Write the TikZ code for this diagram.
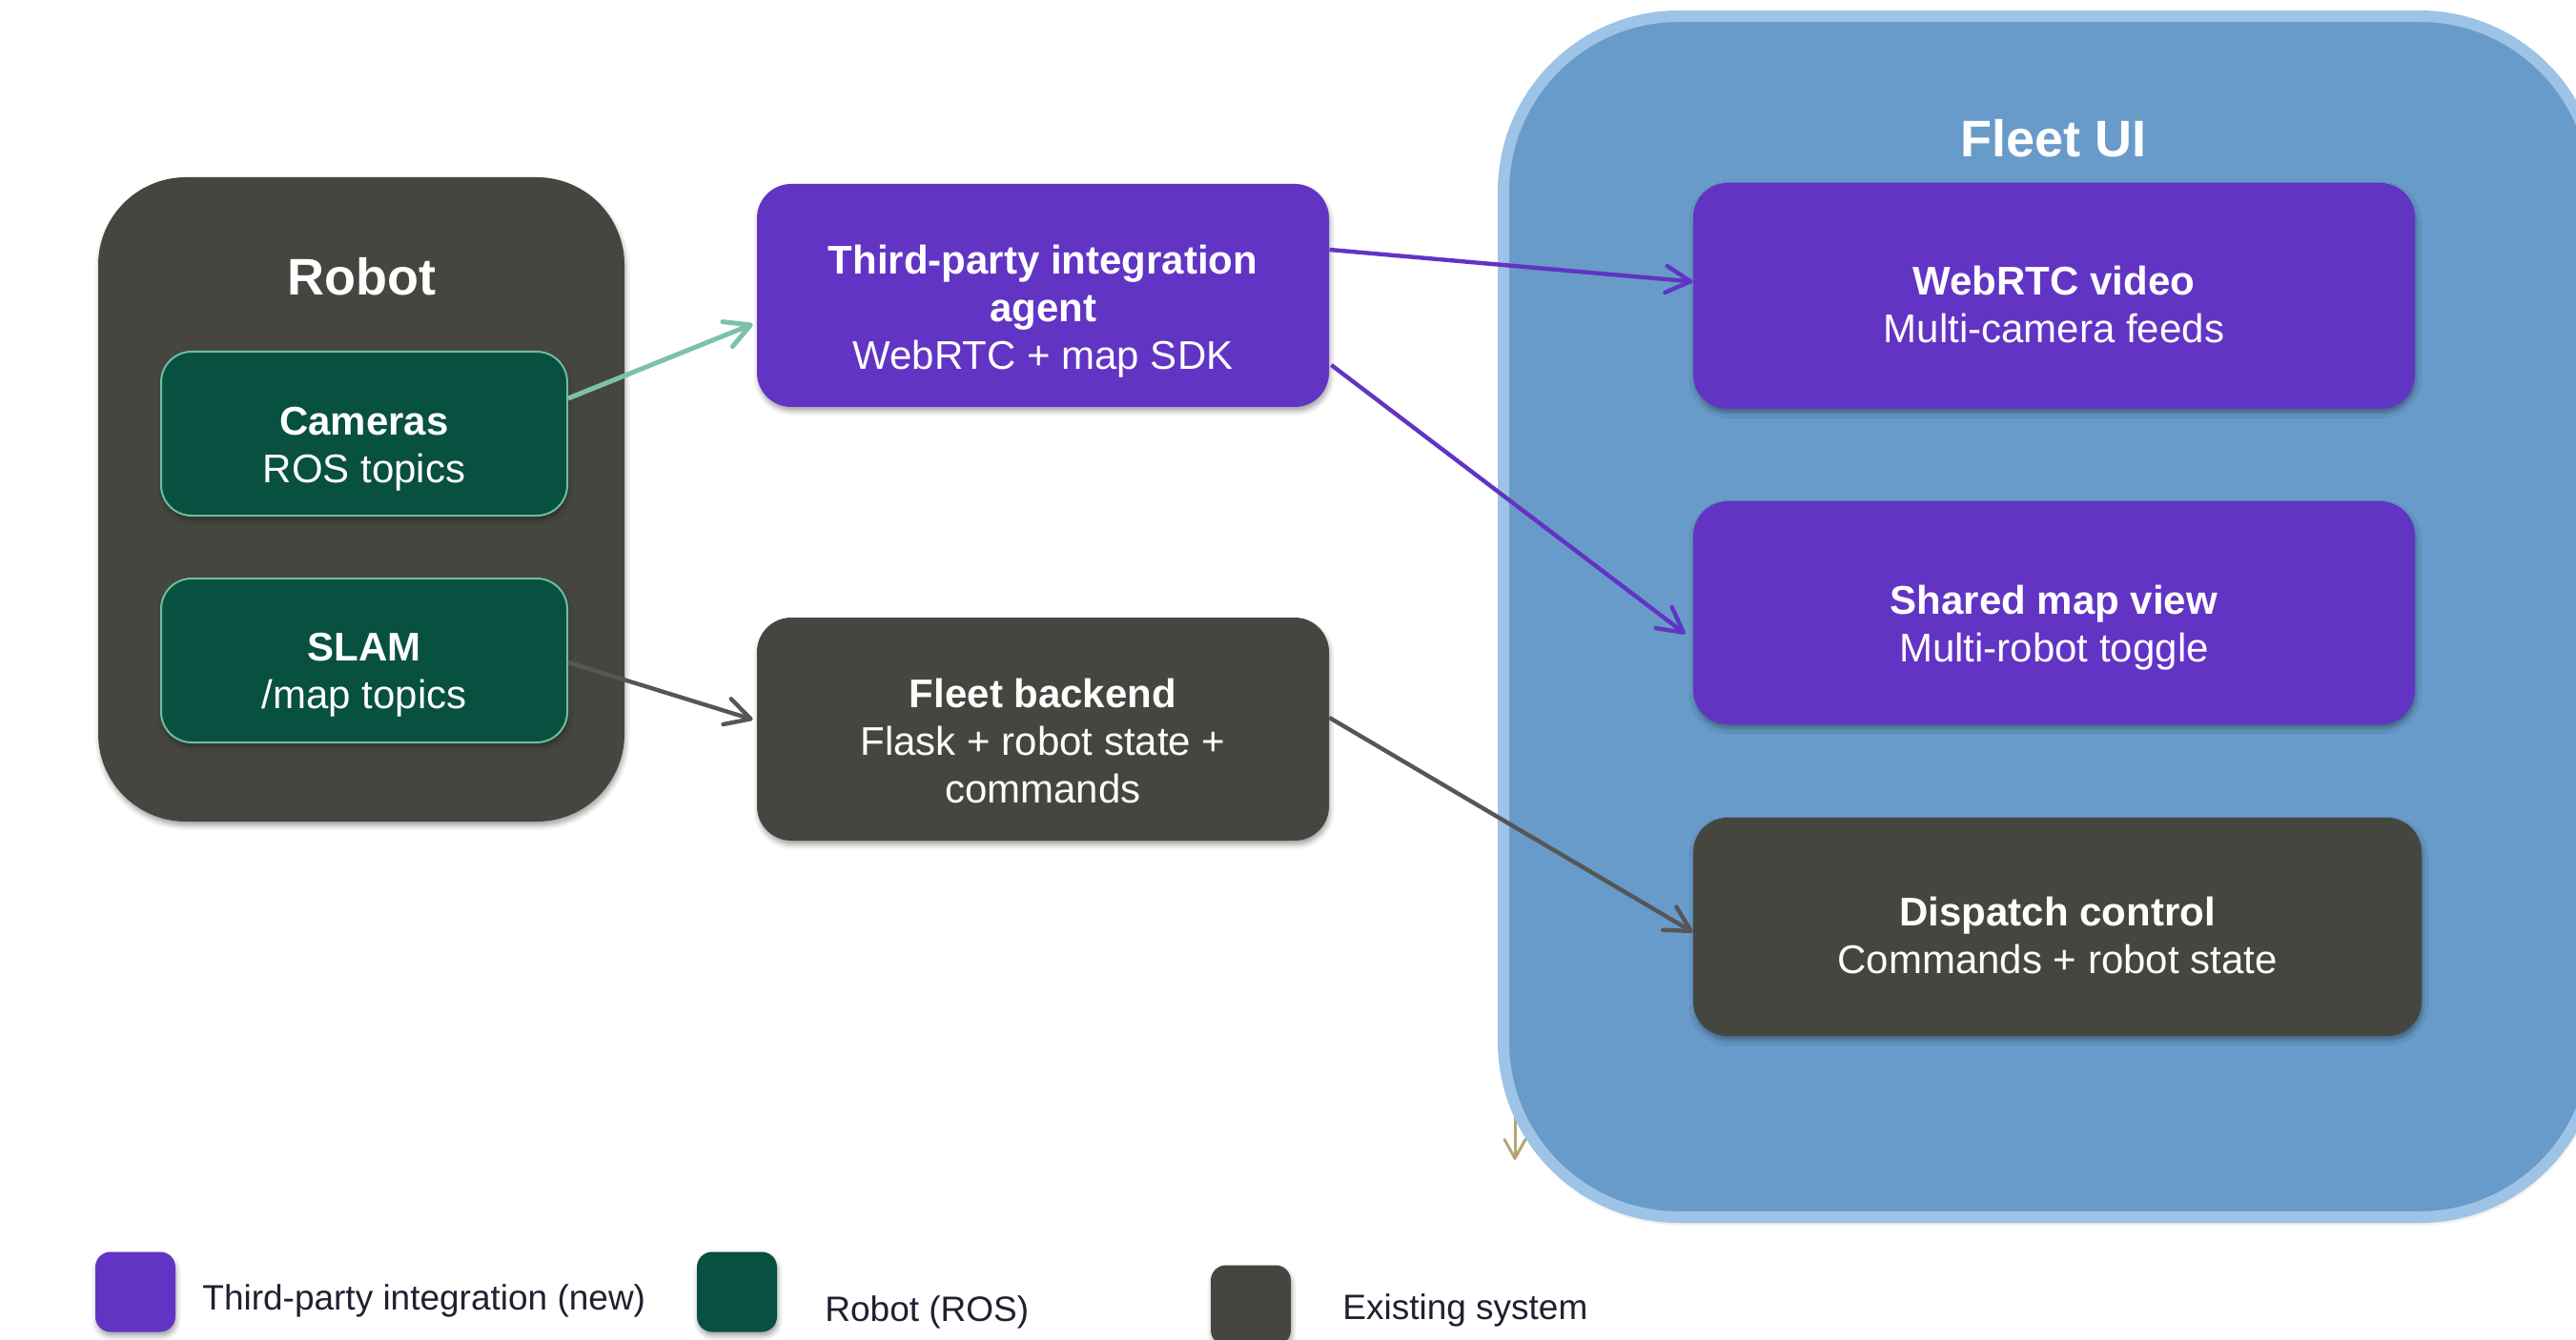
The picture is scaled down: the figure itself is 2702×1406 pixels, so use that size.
\documentclass[tikz,border=0pt]{standalone}
\usepackage{fontspec}
\setmainfont{Liberation Sans}
\usetikzlibrary{arrows.meta,shadows.blur}

\definecolor{newpurple}{HTML}{6234C4}
\definecolor{rosgreen}{HTML}{08503F}
\definecolor{rosedge}{HTML}{6DBE9F}
\definecolor{oldgray}{HTML}{464641}
\definecolor{uifill}{HTML}{689BC9}
\definecolor{uiedge}{HTML}{9DC3E6}
\definecolor{tealarrow}{HTML}{7DC2A8}
\definecolor{grayarrow}{HTML}{565656}
\definecolor{tanarrow}{HTML}{B5A572}
\definecolor{legendtext}{HTML}{202030}

\tikzset{
  softshadow/.style={blur shadow={shadow xshift=0.6pt, shadow yshift=-2.2pt,
      shadow blur radius=2.5pt, shadow opacity=35}},
  panel/.style={inner sep=0pt, softshadow},
  newbox/.style={panel, fill=newpurple, rounded corners=18pt},
  oldbox/.style={panel, fill=oldgray, rounded corners=18pt},
  rosbox/.style={panel, fill=rosgreen, draw=rosedge, line width=1pt,
      rounded corners=16pt, minimum width=213pt, minimum height=86pt},
  boxtext/.style={inner sep=0pt, align=center, text=white,
      font=\fontsize{21}{25}\selectfont},
  grouptitle/.style={text=white, font=\fontsize{27}{32}\selectfont\bfseries},
  legsq/.style={minimum width=42pt, minimum height=42pt, inner sep=0pt,
      rounded corners=8pt, softshadow},
  legtext/.style={anchor=west, text=legendtext, inner sep=0pt,
      font=\fontsize{18.5}{22}\selectfont},
  link/.style={line width=2.2pt,
      -{Straight Barb[length=13pt,width=14pt,round]}},
}

\begin{document}
\begin{tikzpicture}[x=0.5pt,y=-0.5pt]
\useasboundingbox (0,0) rectangle (2702,1406);
\clip (0,0) rectangle (2702,1406);

% short tan arrow, mostly hidden behind the Fleet UI panel
\coordinate (tanstart) at (1589,1060);
\coordinate (tanend) at (1589,1217);
\draw[line width=1.5pt, draw=tanarrow,
      -{Straight Barb[length=10pt,width=11pt,round]}] (tanstart) -- (tanend);

% Fleet UI container
\path[fill=uifill, draw=uiedge, line width=6pt, rounded corners=92pt,
      softshadow] (1577,17) rectangle (2722,1277);
\node[grouptitle] (fleettitle) at (2154,145) {Fleet UI};

% Robot container
\node[fill=oldgray, rounded corners=46pt, minimum width=276pt,
      minimum height=338pt, inner sep=0pt, softshadow] (robot) at (379,524) {};
\node[grouptitle] (robottitle) at (379,290) {Robot};

\node[rosbox] (cameras) at (382,455) {};
\node[boxtext] (camerastext) at ([yshift=-8pt]cameras.center) {\textbf{Cameras}\\ROS topics};
\node[rosbox] (slam) at (382,693) {};
\node[boxtext] (slamtext) at ([yshift=-7.5pt]slam.center) {\textbf{SLAM}\\/map topics};

% middle column
\node[newbox, minimum width=300pt, minimum height=117pt] (agent) at (1094,310) {};
\node[boxtext] (agenttext) at ([yshift=-8.5pt]agent.center)
  {\textbf{Third-party integration}\\\textbf{agent}\\WebRTC + map SDK};
\node[oldbox, minimum width=300pt, minimum height=117pt] (backend) at (1094,765) {};
\node[boxtext] (backendtext) at ([yshift=-6pt]backend.center)
  {\textbf{Fleet backend}\\Flask + robot state +\\commands};

% Fleet UI contents
\node[newbox, minimum width=378.5pt, minimum height=118.5pt] (webrtc) at (2154.5,310.5) {};
\node[boxtext] (webrtctext) at ([yshift=-4.7pt]webrtc.center)
  {\textbf{WebRTC video}\\Multi-camera feeds};
\node[newbox, minimum width=378.5pt, minimum height=117pt] (mapview) at (2154.5,643) {};
\node[boxtext] (mapviewtext) at ([yshift=-8pt]mapview.center)
  {\textbf{Shared map view}\\Multi-robot toggle};
\node[oldbox, minimum width=382pt, minimum height=114.5pt] (dispatch) at (2158,972.5) {};
\node[boxtext] (dispatchtext) at ([yshift=-4.7pt]dispatch.center)
  {\textbf{Dispatch control}\\Commands + robot state};

% connectors
\draw[link, draw=tealarrow, line width=2.5pt] ([yshift=18.5pt]cameras.east) -- ([yshift=-15pt,xshift=-2pt]agent.west);
\draw[link, draw=grayarrow] ([yshift=-1pt]slam.east) -- ([yshift=5pt,xshift=-2pt]backend.west);
\draw[link, draw=newpurple] ([yshift=24pt]agent.east) -- ([yshift=7.5pt]webrtc.west);
\draw[link, draw=newpurple] ([yshift=-36.5pt,xshift=1pt]agent.east) -- ([yshift=-11pt,xshift=-4pt]mapview.west);
\draw[link, draw=grayarrow] ([yshift=6pt]backend.east) -- ([yshift=-2.75pt]dispatch.west);

% legend
\node[legsq, fill=newpurple] (legnew) at (142,1355.5) {};
\node[legtext] (legnewtext) at (212,1365) {Third-party integration (new)};
\node[legsq, fill=rosgreen] (legros) at (773,1355.5) {};
\node[legtext] (legrostext) at (865,1377) {Robot (ROS)};
\node[legsq, fill=oldgray] (legold) at (1312,1369.5) {};
\node[legtext] (legoldtext) at (1408,1375) {Existing system};
\end{tikzpicture}
\end{document}
